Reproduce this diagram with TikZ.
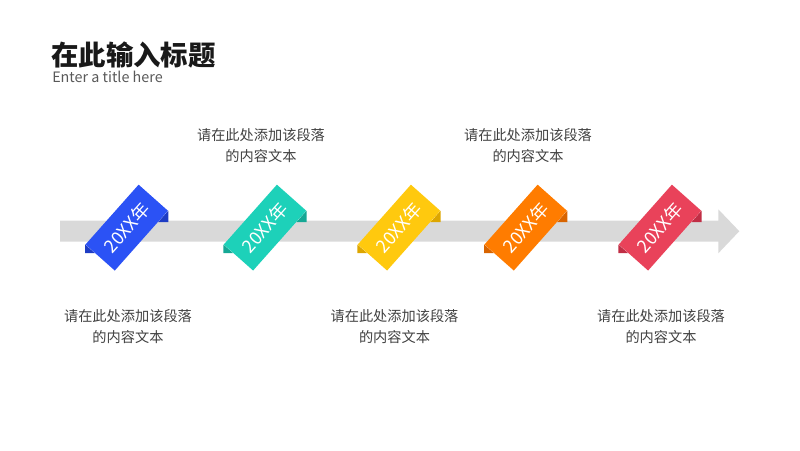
\documentclass[tikz,border=0pt]{standalone}
\usepackage{fontspec}
\setmainfont{Noto Sans CJK SC}
\usetikzlibrary{calc}
\definecolor{barGray}{HTML}{D9D9D9}
\definecolor{txtGray}{HTML}{404040}
\definecolor{subGray}{HTML}{595959}
\definecolor{rbBlue}{HTML}{2B52F5}
\definecolor{rbBlueD}{HTML}{1E3CC4}
\definecolor{rbTeal}{HTML}{1DD1B9}
\definecolor{rbTealD}{HTML}{15A895}
\definecolor{rbYellow}{HTML}{FFC90E}
\definecolor{rbYellowD}{HTML}{DDA600}
\definecolor{rbOrange}{HTML}{FF7C00}
\definecolor{rbOrangeD}{HTML}{D86400}
\definecolor{rbRed}{HTML}{E9425A}
\definecolor{rbRedD}{HTML}{C02E45}

\begin{document}
\begin{tikzpicture}[x=0.025cm,y=-0.025cm,
  ribbon/.style={rotate=48.4,minimum width=2cm,minimum height=0.98cm,inner sep=0pt,text=white,font=\fontsize{12.8}{14}\selectfont},
  desc/.style={align=center,text=txtGray,font=\fontsize{10.1}{15}\selectfont},
  head/.style={anchor=west,inner sep=0pt}
]
  \useasboundingbox (0,0) rectangle (800,450);
  \node[head,font=\fontsize{19.5}{22}\selectfont\bfseries,text=black!90] (title) at (51,55) {在此输入标题};
  \node[head,font=\fontsize{10.2}{12}\selectfont,text=subGray] (sub) at (52,77) {Enter a title here};
  % timeline arrow
  \fill[barGray] (60,220.7) -- (718.3,220.7) -- (718.3,209.3) -- (739.3,231.2)
    -- (718.3,253.3) -- (718.3,241.7) -- (60,241.7) -- cycle;
  % ribbons
  \node[ribbon,fill=rbBlue]   (r1) at (126.7,227.6) {20XX年};
  \node[ribbon,fill=rbTeal]   (r2) at (265,227.6)   {20XX年};
  \node[ribbon,fill=rbYellow] (r3) at (399,227.6)   {20XX年};
  \node[ribbon,fill=rbOrange] (r4) at (525.7,227.6) {20XX年};
  \node[ribbon,fill=rbRed]    (r5) at (660,227.6)   {20XX年};
  \coordinate (f1) at ($(r1.south east)!0.19!(r1.south west)$);
  \coordinate (f2) at ($(r2.south east)!0.19!(r2.south west)$);
  \coordinate (f3) at ($(r3.south east)!0.19!(r3.south west)$);
  \coordinate (f4) at ($(r4.south east)!0.19!(r4.south west)$);
  \coordinate (f5) at ($(r5.south east)!0.19!(r5.south west)$);
  \coordinate (g1) at ($(r1.north west)!0.33!(r1.south west)$);
  \coordinate (g2) at ($(r2.north west)!0.33!(r2.south west)$);
  \coordinate (g3) at ($(r3.north west)!0.33!(r3.south west)$);
  \coordinate (g4) at ($(r4.north west)!0.33!(r4.south west)$);
  \coordinate (g5) at ($(r5.north west)!0.33!(r5.south west)$);
  \fill[rbBlueD] (r1.south east) -- (r1.south east |- f1) -- (f1) -- cycle;
  \fill[rbBlueD] (r1.north west) -- (r1.north west |- g1) -- (g1) -- cycle;
  \fill[rbTealD] (r2.south east) -- (r2.south east |- f2) -- (f2) -- cycle;
  \fill[rbTealD] (r2.north west) -- (r2.north west |- g2) -- (g2) -- cycle;
  \fill[rbYellowD] (r3.south east) -- (r3.south east |- f3) -- (f3) -- cycle;
  \fill[rbYellowD] (r3.north west) -- (r3.north west |- g3) -- (g3) -- cycle;
  \fill[rbOrangeD] (r4.south east) -- (r4.south east |- f4) -- (f4) -- cycle;
  \fill[rbOrangeD] (r4.north west) -- (r4.north west |- g4) -- (g4) -- cycle;
  \fill[rbRedD] (r5.south east) -- (r5.south east |- f5) -- (f5) -- cycle;
  \fill[rbRedD] (r5.north west) -- (r5.north west |- g5) -- (g5) -- cycle;
  % descriptions
  \node[desc] (d2) at (261,145.5) {请在此处添加该段落\\的内容文本};
  \node[desc] (d4) at (528,145.5) {请在此处添加该段落\\的内容文本};
  \node[desc] (d1) at (128,327)   {请在此处添加该段落\\的内容文本};
  \node[desc] (d3) at (394.5,327) {请在此处添加该段落\\的内容文本};
  \node[desc] (d5) at (661,327)   {请在此处添加该段落\\的内容文本};
\end{tikzpicture}
\end{document}
